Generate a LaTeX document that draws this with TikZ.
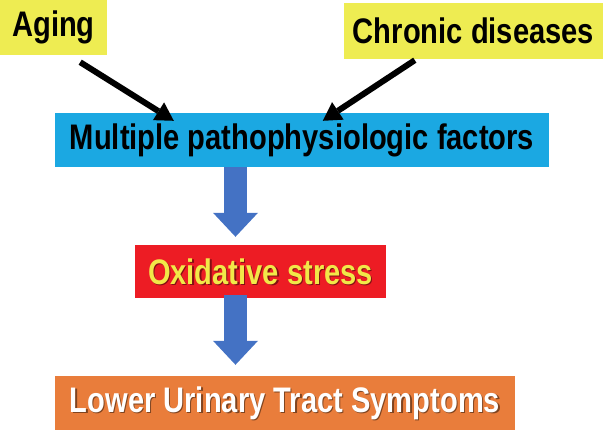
\documentclass[tikz,border=0pt]{standalone}
\usepackage{fontspec}
\setmainfont{Liberation Sans}[FakeStretch=0.82]
\usetikzlibrary{arrows.meta}

\definecolor{boxyellow}{RGB}{238,236,82}
\definecolor{boxblue}{RGB}{27,168,226}
\definecolor{boxred}{RGB}{237,28,36}
\definecolor{boxorange}{RGB}{233,125,59}
\definecolor{arrowblue}{RGB}{68,114,196}
\definecolor{textyellow}{RGB}{242,232,72}

\tikzset{
  box/.style={inner sep=0pt, font=\fontsize{35.5pt}{36pt}\selectfont\bfseries},
  shadowtext/.style={inner sep=0pt, font=\fontsize{35.5pt}{36pt}\selectfont\bfseries, text=black, opacity=0.45},
  blackarrow/.style={line width=6pt, -{Triangle[width=21pt,length=18pt,line width=0pt]}},
  bluearrow/.style={arrowblue, line width=23pt, -{Triangle[width=45pt,length=24pt,line width=0pt]}}
}

\begin{document}
\begin{tikzpicture}[x=1pt,y=-1pt]
  \useasboundingbox (0,0) rectangle (614,430);
  \node [box, fill=boxyellow, minimum width=107pt, minimum height=55pt] (aging) at (53.5,27.5) {Aging};
  \node [box, fill=boxyellow, minimum width=259pt, minimum height=56pt] (chronic) at (473.5,31) {Chronic diseases};
  \node [box, fill=boxblue, minimum width=494pt, minimum height=54pt] (mpf) at (302,140) {Multiple pathophysiologic factors};
  \node [box, fill=boxred, minimum width=251pt, minimum height=53pt] (ox) at (260.5,271.5) {};
  \node [shadowtext] (oxshadow) at ([shift={(1.2pt,-1.2pt)}]ox.center) {Oxidative stress};
  \node [box, text=textyellow] (oxtext) at (ox.center) {Oxidative stress};
  \node [box, fill=boxorange, minimum width=460pt, minimum height=54pt] (luts) at (285,403) {};
  \node [shadowtext] (lutsshadow) at ([shift={(1.2pt,-1.2pt)}]luts.center) {Lower Urinary Tract Symptoms};
  \node [box, text=white] (lutstext) at (luts.center) {Lower Urinary Tract Symptoms};
  \coordinate (axis) at (235.5,0);
  \draw [blackarrow] ([xshift=-27pt,yshift=-7pt]aging.south east) -- ([xshift=119pt,yshift=-8pt]mpf.north west);
  \draw [blackarrow] ([xshift=71pt,yshift=-1pt]chronic.south west) -- ([xshift=268pt,yshift=-8pt]mpf.north west);
  \draw [bluearrow, shorten >=8pt] (mpf.south -| axis) -- (ox.north -| axis);
  \draw [bluearrow, shorten >=11pt] ([yshift=3pt]ox.south -| axis) -- (luts.north -| axis);
\end{tikzpicture}
\end{document}
